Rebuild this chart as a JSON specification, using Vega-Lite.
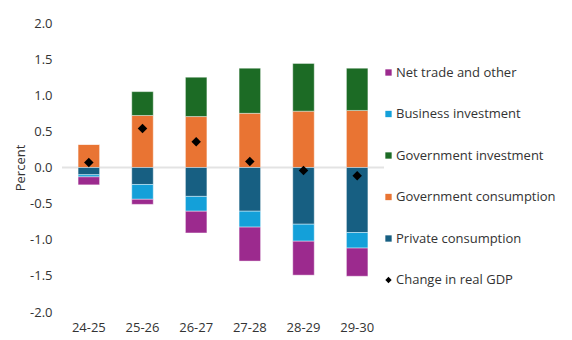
{
  "$schema": "https://vega.github.io/schema/vega-lite/v6.json",
  "width": 322,
  "height": 289,
  "autosize": "none",
  "padding": {"left": 62, "top": 23, "right": 188, "bottom": 28},
  "background": "white",
  "config": {
    "view": {"stroke": null},
    "font": "Open Sans",
    "legend": {"symbolSize": 40},
    "axisY": {
      "titleFontSize": 13, "titleFontWeight": "normal", "titleColor": "#333333", "titlePadding": 2,
      "labelOverlap": false, "grid": false, "domain": false, "ticks": false, "labelPadding": 10, "labelFontSize": 13, "labelColor": "#333333"
    }
  },
  "datasets": {
    "components": [
      {"year": "24-25", "series": "Government consumption", "ord": 0, "value": 0.32},
      {"year": "24-25", "series": "Government investment", "ord": 1, "value": 0.0},
      {"year": "24-25", "series": "Private consumption", "ord": 2, "value": -0.10},
      {"year": "24-25", "series": "Business investment", "ord": 3, "value": -0.03},
      {"year": "24-25", "series": "Net trade and other", "ord": 4, "value": -0.11},
      {"year": "25-26", "series": "Government consumption", "ord": 0, "value": 0.72},
      {"year": "25-26", "series": "Government investment", "ord": 1, "value": 0.33},
      {"year": "25-26", "series": "Private consumption", "ord": 2, "value": -0.235},
      {"year": "25-26", "series": "Business investment", "ord": 3, "value": -0.205},
      {"year": "25-26", "series": "Net trade and other", "ord": 4, "value": -0.07},
      {"year": "26-27", "series": "Government consumption", "ord": 0, "value": 0.705},
      {"year": "26-27", "series": "Government investment", "ord": 1, "value": 0.545},
      {"year": "26-27", "series": "Private consumption", "ord": 2, "value": -0.40},
      {"year": "26-27", "series": "Business investment", "ord": 3, "value": -0.205},
      {"year": "26-27", "series": "Net trade and other", "ord": 4, "value": -0.30},
      {"year": "27-28", "series": "Government consumption", "ord": 0, "value": 0.75},
      {"year": "27-28", "series": "Government investment", "ord": 1, "value": 0.625},
      {"year": "27-28", "series": "Private consumption", "ord": 2, "value": -0.605},
      {"year": "27-28", "series": "Business investment", "ord": 3, "value": -0.22},
      {"year": "27-28", "series": "Net trade and other", "ord": 4, "value": -0.47},
      {"year": "28-29", "series": "Government consumption", "ord": 0, "value": 0.78},
      {"year": "28-29", "series": "Government investment", "ord": 1, "value": 0.66},
      {"year": "28-29", "series": "Private consumption", "ord": 2, "value": -0.785},
      {"year": "28-29", "series": "Business investment", "ord": 3, "value": -0.235},
      {"year": "28-29", "series": "Net trade and other", "ord": 4, "value": -0.47},
      {"year": "29-30", "series": "Government consumption", "ord": 0, "value": 0.79},
      {"year": "29-30", "series": "Government investment", "ord": 1, "value": 0.585},
      {"year": "29-30", "series": "Private consumption", "ord": 2, "value": -0.90},
      {"year": "29-30", "series": "Business investment", "ord": 3, "value": -0.215},
      {"year": "29-30", "series": "Net trade and other", "ord": 4, "value": -0.39}
    ],
    "gdp": [
      {"year": "24-25", "series": "Change in real GDP", "value": 0.07},
      {"year": "25-26", "series": "Change in real GDP", "value": 0.54},
      {"year": "26-27", "series": "Change in real GDP", "value": 0.355},
      {"year": "27-28", "series": "Change in real GDP", "value": 0.083},
      {"year": "28-29", "series": "Change in real GDP", "value": -0.04},
      {"year": "29-30", "series": "Change in real GDP", "value": -0.115}
    ],
    "zero": [{"value": 0}]
  },
  "layer": [
    {
      "data": {"name": "zero"},
      "mark": {"type": "rule", "color": "#e3e3e3", "strokeWidth": 2},
      "encoding": {
        "y": {
          "field": "value", "type": "quantitative",
          "scale": {"domain": [-2, 2], "nice": false},
          "axis": {"title": "Percent", "values": [-2, -1.5, -1, -0.5, 0, 0.5, 1, 1.5, 2], "labelExpr": "replace(format(datum.value, '.1f'), '−', '-')"}
        }
      }
    },
    {
      "data": {"name": "components"},
      "mark": {"type": "bar", "stroke": "#ffffff", "strokeWidth": 0.8, "strokeOpacity": 0.5},
      "encoding": {
        "x": {
          "field": "year", "type": "nominal", "sort": null,
          "scale": {"paddingInner": 0.6, "paddingOuter": 0.3},
          "axis": {"title": null, "labelAngle": 0, "ticks": false, "domain": false, "labelPadding": 9, "labelFontSize": 13, "labelColor": "#333333"}
        },
        "y": {
          "field": "value", "type": "quantitative", "stack": "zero",
          "axis": {"title": "Percent", "values": [-2, -1.5, -1, -0.5, 0, 0.5, 1, 1.5, 2], "labelExpr": "replace(format(datum.value, '.1f'), '−', '-')"}
        },
        "color": {
          "field": "series", "type": "nominal",
          "scale": {
            "domain": ["Net trade and other", "Business investment", "Government investment", "Government consumption", "Private consumption", "Change in real GDP"],
            "range": ["#9c2a8e", "#14a0d9", "#1c6b25", "#e97433", "#175f82", "#000000"]
          },
          "legend": {
            "title": null, "orient": "none", "legendX": 320, "legendY": 43, "padding": 0,
            "rowPadding": 27.5, "labelFontSize": 13, "labelColor": "#333333", "labelOffset": 1, "symbolStrokeWidth": 0
          }
        },
        "order": {"field": "ord", "type": "quantitative"}
      }
    },
    {
      "data": {"name": "gdp"},
      "mark": {"type": "point", "filled": true, "opacity": 1, "size": 90},
      "encoding": {
        "x": {"field": "year", "type": "nominal", "sort": null},
        "y": {
          "field": "value", "type": "quantitative",
          "axis": {"title": "Percent", "values": [-2, -1.5, -1, -0.5, 0, 0.5, 1, 1.5, 2], "labelExpr": "replace(format(datum.value, '.1f'), '−', '-')"}
        },
        "color": {"field": "series", "type": "nominal"},
        "shape": {
          "field": "series", "type": "nominal",
          "scale": {
            "domain": ["Net trade and other", "Business investment", "Government investment", "Government consumption", "Private consumption", "Change in real GDP"],
            "range": ["square", "square", "square", "square", "square", "diamond"]
          },
          "legend": {"title": null}
        }
      }
    }
  ]
}
